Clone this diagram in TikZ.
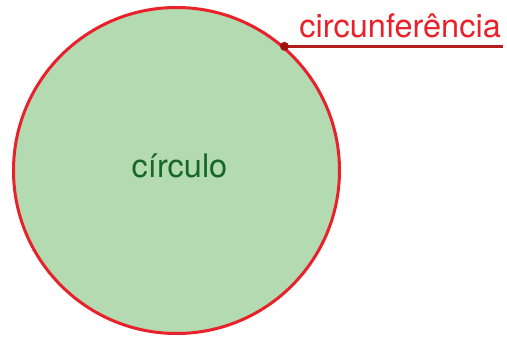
\documentclass[tikz,border=0pt]{standalone}
\usepackage{fontspec}
\setmainfont{TeX Gyre Heros}
\usepackage{tikz}
\usetikzlibrary{positioning,calc}
\definecolor{circfill}{HTML}{B3DAB0}
\definecolor{circline}{HTML}{E8212B}
\definecolor{circtext}{HTML}{16662A}
\definecolor{markline}{HTML}{B51D1D}
\definecolor{markdot}{HTML}{9E1212}

\begin{document}
\begin{tikzpicture}[
  x=1pt, y=1pt,
  disc/.style={circle, draw=circline, fill=circfill, line width=3pt,
    minimum size=326pt, inner sep=0pt, text=circtext,
    font=\fontsize{32.5}{38}\selectfont},
  pointer/.style={line width=2.5pt, draw=markline},
  lbl/.style={text=circline, inner sep=0pt, font=\fontsize{32.5}{38}\selectfont}
]
  \useasboundingbox (0,0) rectangle (507,338);
  \node[disc] (circ) at (176.5,167.5) {};
  \node[text=circtext, font=\fontsize{32.5}{38}\selectfont, anchor=base] (name) at (179.5,160) {círculo};
  %
  \coordinate (dot) at (circ.49.5);
  \coordinate (lineend) at (503,0);
  \draw[pointer] (dot) -- (dot -| lineend);
  \fill[markdot] (dot) circle (4.5pt);
  \node[lbl, anchor=base east] (circunf) at (501,300) {circunferência};
\end{tikzpicture}
\end{document}
